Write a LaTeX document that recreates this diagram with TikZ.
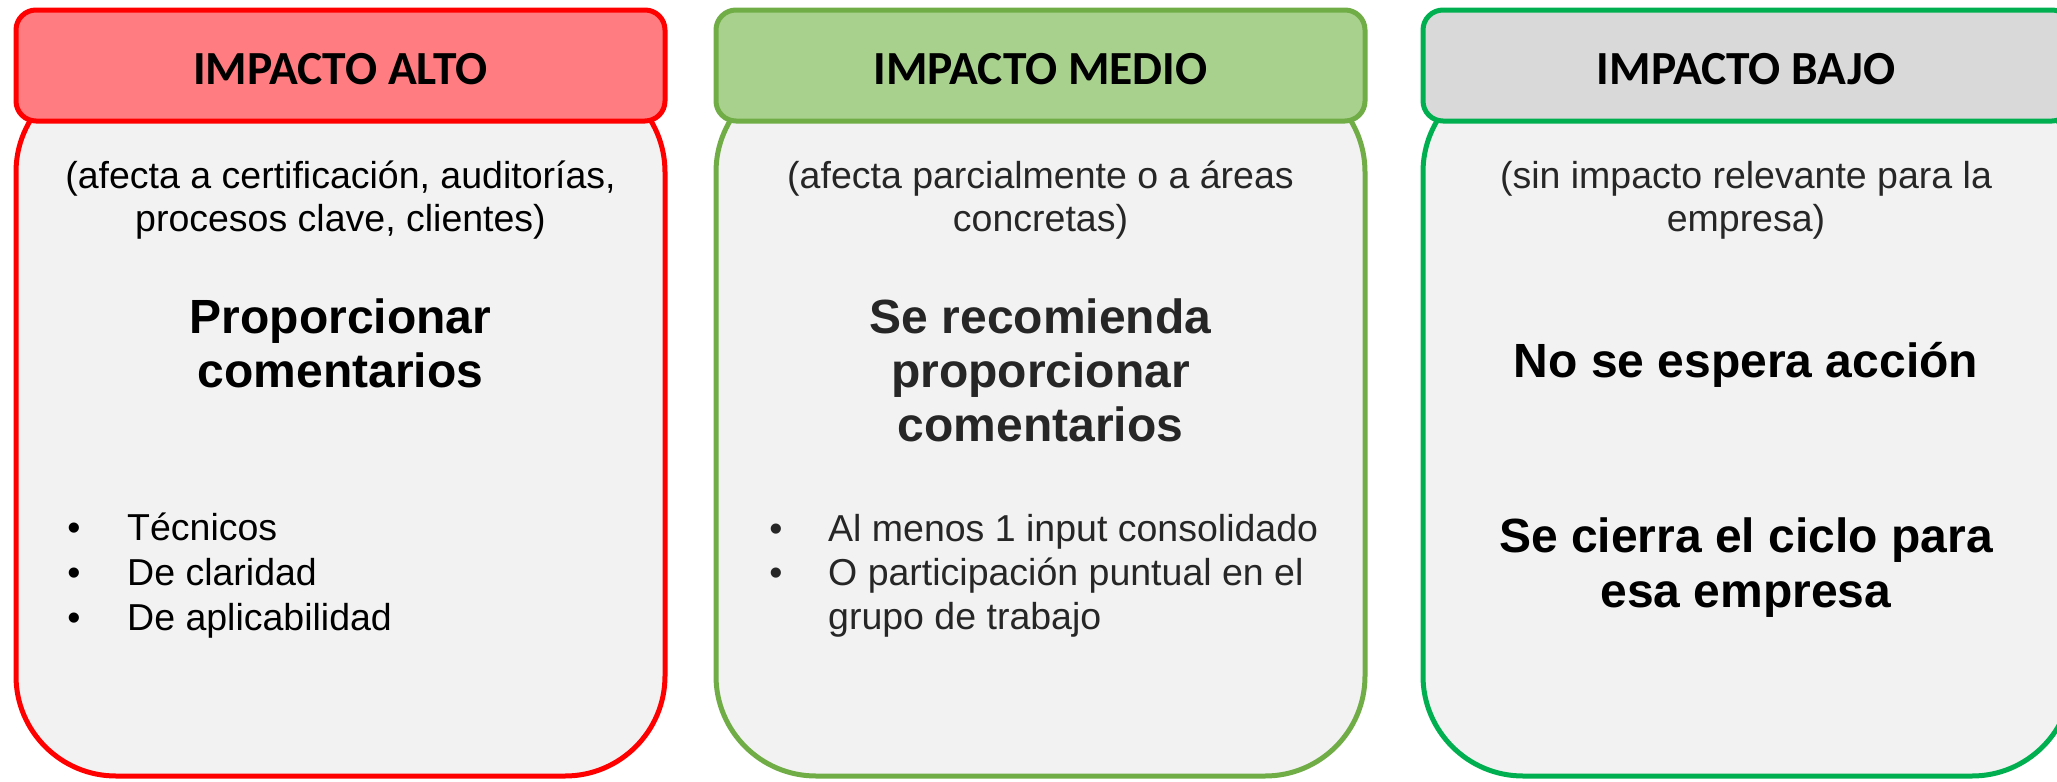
\documentclass[tikz,border=0pt]{standalone}
\usepackage{fontspec}
\setmainfont{Liberation Sans}
\newfontfamily\hdrfont{Carlito}
\definecolor{redline}{HTML}{FF0000}
\definecolor{redfill}{HTML}{FF7C80}
\definecolor{grnline}{HTML}{70AD47}
\definecolor{grnfill}{HTML}{A9D18E}
\definecolor{lowline}{HTML}{00B050}
\definecolor{lowfill}{HTML}{D9D9D9}
\definecolor{bodygray}{HTML}{F2F2F2}
\definecolor{txtdark}{HTML}{262626}
\begin{document}
\begin{tikzpicture}[x=1pt,y=-1pt,
  bodybox/.style={draw, line width=5pt, fill=bodygray, rounded corners=100pt,
    minimum width=649pt, minimum height=704pt, inner sep=0pt},
  hdrbox/.style={draw, line width=5pt, rounded corners=20pt,
    minimum width=649pt, minimum height=111pt, inner sep=0pt},
  htxt/.style={font=\hdrfont\bfseries\fontsize{47.5}{55}\selectfont, anchor=base, inner sep=0pt},
  subtxt/.style={font=\fontsize{37.5}{43}\selectfont, anchor=base, inner sep=0pt},
  bigtxt/.style={font=\bfseries\fontsize{48}{54}\selectfont, anchor=base, inner sep=0pt},
  itemtxt/.style={font=\fontsize{37.5}{43}\selectfont, anchor=base west, inner sep=0pt},
  dottxt/.style={font=\fontsize{37.5}{43}\selectfont, anchor=base, inner sep=0pt}]
\useasboundingbox (0,0) rectangle (2057,782);
\clip (0,0) rectangle (2057,782);

% ---- Box 1: IMPACTO ALTO ----
\node[bodybox, draw=redline] (b1) at (340.5,424) {};
\node[hdrbox, draw=redline, fill=redfill] (h1) at (340.5,65.5) {};
\node[htxt] (h1t) at (340.5,84) {IMPACTO ALTO};
\node[subtxt] (s1a) at (340.5,188) {(afecta a certificación, auditorías,};
\node[subtxt] (s1b) at (340.5,231) {procesos clave, clientes)};
\node[bigtxt] (g1a) at (340.5,333) {Proporcionar};
\node[bigtxt] (g1b) at (340.5,387) {comentarios};
\node[dottxt] (d1a) at (74,540) {•};
\node[dottxt] (d1b) at (74,585) {•};
\node[dottxt] (d1c) at (74,630) {•};
\node[itemtxt] (i1a) at (127,540) {Técnicos};
\node[itemtxt] (i1b) at (127,585) {De claridad};
\node[itemtxt] (i1c) at (127,630) {De aplicabilidad};

% ---- Box 2: IMPACTO MEDIO ----
\node[bodybox, draw=grnline] (b2) at (1040.5,424) {};
\node[hdrbox, draw=grnline, fill=grnfill] (h2) at (1040.5,65.5) {};
\node[htxt] (h2t) at (1040.5,84) {IMPACTO MEDIO};
\node[subtxt, text=txtdark] (s2a) at (1040.5,188) {(afecta parcialmente o a áreas};
\node[subtxt, text=txtdark] (s2b) at (1040.5,231) {concretas)};
\node[bigtxt, text=txtdark] (g2a) at (1040.5,333) {Se recomienda};
\node[bigtxt, text=txtdark] (g2b) at (1040.5,387) {proporcionar};
\node[bigtxt, text=txtdark] (g2c) at (1040.5,441) {comentarios};
\node[dottxt, text=txtdark] (d2a) at (776,541) {•};
\node[dottxt, text=txtdark] (d2b) at (776,585) {•};
\node[itemtxt, text=txtdark] (i2a) at (828,541) {Al menos 1 input consolidado};
\node[itemtxt, text=txtdark] (i2b) at (828,585) {O participación puntual en el};
\node[itemtxt, text=txtdark] (i2c) at (828,629) {grupo de trabajo};

% ---- Box 3: IMPACTO BAJO ----
\node[bodybox, draw=lowline] (b3) at (1747.5,424) {};
\node[hdrbox, draw=lowline, fill=lowfill] (h3) at (1747.5,65.5) {};
\node[htxt] (h3t) at (1746,84) {IMPACTO BAJO};
\node[subtxt, text=txtdark] (s3a) at (1746,188) {(sin impacto relevante para la};
\node[subtxt, text=txtdark] (s3b) at (1746,231) {empresa)};
\node[bigtxt] (g3a) at (1746,377) {No se espera acción};
\node[bigtxt] (g3b) at (1746,552) {Se cierra el ciclo para};
\node[bigtxt] (g3c) at (1746,607) {esa empresa};
\end{tikzpicture}
\end{document}
